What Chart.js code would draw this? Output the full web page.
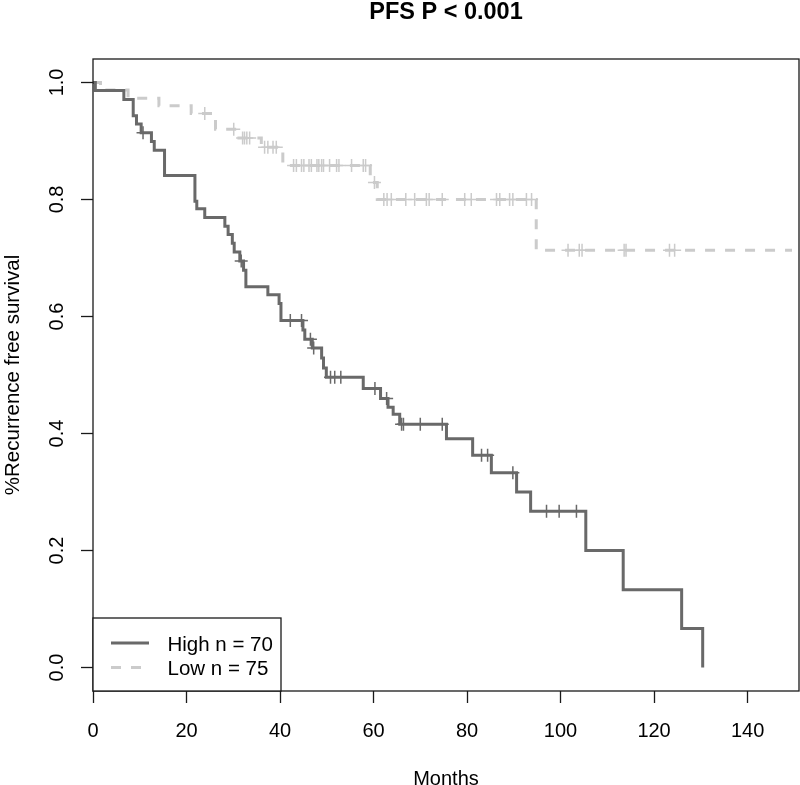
<!DOCTYPE html>
<html>
<head>
<meta charset="utf-8">
<title>PFS P &lt; 0.001</title>
<script src="https://cdn.jsdelivr.net/npm/chart.js@4.4.1/dist/chart.umd.min.js"></script>
<style>
    html, body { margin: 0; padding: 0; background: #fff; }
    #wrap { width: 800px; height: 785px; }
</style>
</head>
<body>
<div id="wrap"><canvas id="kmChart"></canvas></div>
<script>
// Kaplan-Meier steps: time (months) and survival right after the step
const highTimes = [0, 0.5, 6.6, 8.6, 9.3, 10.3, 12.5, 13.1, 15.3, 21.8, 22.2, 23.9, 28.2, 28.9, 29.8, 30.2, 31.4, 32.2, 32.7, 37.4,
    39.8, 40.2, 44.9, 45.3, 46.9, 48.9, 49.3, 49.9, 57.8, 61.5, 63.1, 64.2, 65.6, 75.6, 81.2, 85.2, 90.6, 93.6, 105.4, 113.4, 125.9, 130.4];
const highSurv = [1.0, 0.986, 0.971, 0.943, 0.929, 0.914, 0.899, 0.884, 0.841, 0.797, 0.784, 0.769, 0.754, 0.740, 0.725, 0.710, 0.695, 0.679, 0.651, 0.637,
    0.622, 0.593, 0.577, 0.561, 0.546, 0.529, 0.512, 0.496, 0.477, 0.460, 0.445, 0.433, 0.416, 0.391, 0.363, 0.333, 0.300, 0.267, 0.200, 0.133, 0.067, 0.0];
const highCensor = [10.7, 31.7, 42.2, 44.6, 46.5, 47.2, 50.8, 51.7, 53.0, 60.3, 62.8, 66.0, 66.4, 70.0, 74.7, 83.1, 84.4, 89.8, 97.0, 99.7, 103.4];

const lowTimes = [0, 1.6, 7.5, 14.1, 21.0, 26.2, 30.7, 36.0, 40.6, 59.3, 60.8, 94.8, 149.5];
const lowSurv = [1.0, 0.987, 0.973, 0.960, 0.947, 0.920, 0.905, 0.889, 0.858, 0.829, 0.800, 0.713, 0.713];
const lowCensor = [23.9, 30.1, 32.0, 32.4, 32.9, 33.5, 36.7, 37.4, 38.5, 39.2, 42.9, 43.5, 44.6, 45.1, 46.2, 46.7, 47.9, 48.3, 48.9, 49.3,
    50.6, 52.1, 52.6, 55.3, 57.8, 58.3, 60.2, 62.2, 62.9, 63.8, 66.9, 68.8, 71.3, 71.9, 74.7, 79.5, 80.9, 86.3, 87.0, 89.1,
    89.8, 92.7, 93.8, 101.6, 104.0, 104.6, 113.6, 114.0, 123.3, 124.4];

const groupLabels = ['High n = 70', 'Low n = 75'];
const xTicks = [0, 20, 40, 60, 80, 100, 120, 140];
const yTicks = [0.0, 0.2, 0.4, 0.6, 0.8, 1.0];
const mainTitle = 'PFS P < 0.001';

const FONT = "'Liberation Sans', Arial, Helvetica, sans-serif";
const HIGH_COLOR = '#696969';
const LOW_COLOR = '#cbcbcb';

function toPoints(times, surv) {
    return times.map((t, i) => ({ x: t, y: surv[i] }));
}

// height of the step curve at time t, used to place the censor marks
function survAt(times, surv, t) {
    let s = surv[0];
    for (let i = 0; i < times.length; i++) {
        if (times[i] <= t) s = surv[i];
    }
    return s;
}

function censorPoints(censor, times, surv) {
    return censor.map(t => ({ x: t, y: survAt(times, surv, t) }));
}

// R puts the main title over the centre of the plot region, not the page
const plotTitle = {
    id: 'plotTitle',
    afterDraw(chart) {
        const { ctx, chartArea: a } = chart;
        ctx.save();
        ctx.font = 'bold 23.5px ' + FONT;
        ctx.fillStyle = '#000';
        ctx.textAlign = 'center';
        ctx.textBaseline = 'alphabetic';
        ctx.fillText(mainTitle, (a.left + a.right) / 2, 18.5);
        ctx.restore();
    }
};

// plot frame like R's box()
const boxPlugin = {
    id: 'box',
    afterDraw(chart) {
        const { ctx, chartArea: a } = chart;
        ctx.save();
        ctx.strokeStyle = '#1a1a1a';
        ctx.lineWidth = 1.3;
        ctx.strokeRect(a.left, a.top, a.right - a.left, a.bottom - a.top);
        ctx.restore();
    }
};

// legend box in the bottom-left corner of the plot
const cornerLegend = {
    id: 'cornerLegend',
    afterDraw(chart) {
        const { ctx, chartArea: a } = chart;
        const sets = [chart.data.datasets[0], chart.data.datasets[1]];
        const w = 188, h = 73;
        ctx.save();
        ctx.fillStyle = '#fff';
        ctx.fillRect(a.left, a.bottom - h, w, h);
        ctx.strokeStyle = '#1a1a1a';
        ctx.lineWidth = 1.3;
        ctx.strokeRect(a.left, a.bottom - h, w, h);
        ctx.font = '20.5px ' + FONT;
        ctx.textAlign = 'left';
        ctx.textBaseline = 'alphabetic';
        sets.forEach((ds, i) => {
            const y = a.bottom - h + 25 + i * 24.4;
            ctx.strokeStyle = ds.borderColor;
            ctx.lineWidth = ds.borderWidth;
            ctx.setLineDash(ds.borderDash || []);
            ctx.beginPath();
            ctx.moveTo(a.left + 18, y);
            ctx.lineTo(a.left + 56, y);
            ctx.stroke();
            ctx.setLineDash([]);
            ctx.fillStyle = '#000';
            ctx.fillText(ds.label, a.left + 74.5, y + 7.6);
        });
        ctx.restore();
    }
};

document.addEventListener('DOMContentLoaded', function() {
    Chart.defaults.font.family = FONT;
    Chart.defaults.color = '#000';

    const ctx = document.getElementById('kmChart').getContext('2d');
    new Chart(ctx, {
        type: 'line',
        data: {
            datasets: [{
                label: groupLabels[0],
                data: toPoints(highTimes, highSurv),
                borderColor: HIGH_COLOR,
                borderWidth: 3,
                stepped: 'before',
                pointRadius: 0,
                fill: false
            }, {
                label: groupLabels[1],
                data: toPoints(lowTimes, lowSurv),
                borderColor: LOW_COLOR,
                borderWidth: 3,
                borderDash: [10, 10],
                stepped: 'before',
                pointRadius: 0,
                fill: false
            }, {
                label: 'High censored',
                data: censorPoints(highCensor, highTimes, highSurv),
                showLine: false,
                pointStyle: 'cross',
                pointRadius: 6.5,
                pointBorderWidth: 1.5,
                borderColor: HIGH_COLOR,
                pointBorderColor: HIGH_COLOR
            }, {
                label: 'Low censored',
                data: censorPoints(lowCensor, lowTimes, lowSurv),
                showLine: false,
                pointStyle: 'cross',
                pointRadius: 6.5,
                pointBorderWidth: 1.5,
                borderColor: LOW_COLOR,
                pointBorderColor: LOW_COLOR
            }]
        },
        options: {
            responsive: true,
            maintainAspectRatio: false,
            animation: false,
            layout: { autoPadding: false, padding: { left: 0, right: 1, top: 59, bottom: 0 } },
            plugins: {
                legend: { display: false },
                tooltip: { enabled: false },
                title: { display: false }
            },
            scales: {
                x: {
                    type: 'linear',
                    min: 0,
                    max: 151,
                    afterBuildTicks: s => { s.ticks = xTicks.map(v => ({ value: v })); },
                    afterFit: s => { s.height = 94; },
                    ticks: {
                        autoSkip: false,
                        maxRotation: 0,
                        padding: 16,
                        font: { size: 20 },
                        callback: v => String(v)
                    },
                    grid: { drawOnChartArea: false, drawTicks: true, tickLength: 12, tickColor: '#1a1a1a', tickWidth: 1.3 },
                    border: { display: false },
                    title: {
                        display: true,
                        text: 'Months',
                        font: { size: 20, lineHeight: 1 },
                        padding: { top: 0, bottom: -4.5 }
                    }
                },
                y: {
                    type: 'linear',
                    min: -0.04,
                    max: 1.04,
                    afterBuildTicks: s => { s.ticks = yTicks.map(v => ({ value: v })); },
                    afterFit: s => { s.width = 93; },
                    ticks: {
                        autoSkip: false,
                        minRotation: 90,
                        maxRotation: 90,
                        crossAlign: 'center',
                        padding: 10,
                        font: { size: 20 },
                        callback: v => v.toFixed(1)
                    },
                    grid: { drawOnChartArea: false, drawTicks: true, tickLength: 12, tickColor: '#1a1a1a', tickWidth: 1.3 },
                    border: { display: false },
                    title: {
                        display: true,
                        text: '%Recurrence free survival',
                        font: { size: 20.5, lineHeight: 1.2 },
                        padding: { top: 1, bottom: 0 }
                    }
                }
            }
        },
        plugins: [plotTitle, boxPlugin, cornerLegend]
    });
});
</script>
</body>
</html>
